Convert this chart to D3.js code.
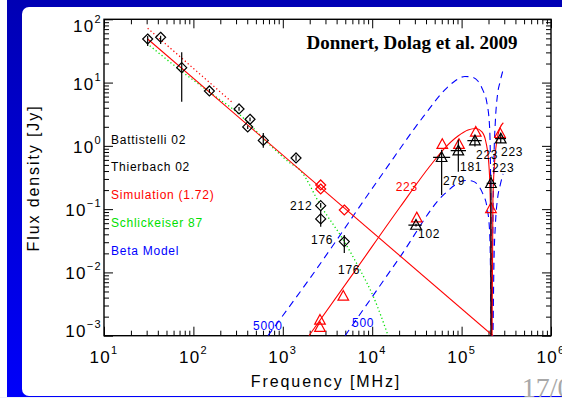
<!DOCTYPE html>
<html>
<head>
<meta charset="utf-8">
<script src="https://cdn.jsdelivr.net/npm/d3@7"></script>
<style>
  body { margin: 0; background: #fff; }
  text { font-family: "Liberation Sans", Arial, sans-serif; }
</style>
</head>
<body>
<script>
// axis ticks
var xMajor = [1e1, 1e2, 1e3, 1e4, 1e5, 1e6];
var xExp = ["1", "2", "3", "4", "5", "6"];
var yMajor = [1e-3, 1e-2, 1e-1, 1e0, 1e1, 1e2];
var yExp = ["\u22123", "\u22122", "\u22121", "0", "1", "2"];

// legend entries (text only, as in the figure)
var legendText = ["Battistelli 02", "Thierbach 02", "Simulation (1.72)", "Schlickeiser 87", "Beta Model"];
var legendColor = ["#000", "#000", "#ff0000", "#00e000", "#0000ff"];

// observed radio points: [MHz, Jy, lo, hi]
var obsDiamonds = [
  [30.8, 48.8, 37.8, 54.5],
  [43.0, 52.0, 40.7, 55.0],
  [74, 17.2, 4.99, 30.1],
  [151, 7.37, 6.9, 7.9],
  [324, 3.83, 3.6, 4.1],
  [430, 2.63, 2.45, 2.8],
  [405, 1.99, 1.85, 2.1],
  [605, 1.22, 0.93, 1.60],
  [1406, 0.644, 0.58, 0.71],
  [2654, 0.1135, 0.105, 0.125],
  [2654, 0.070, 0.0528, 0.097],
  [4875, 0.0307, 0.0203, 0.039]
];
// simulated points
var simDiamonds = [[2654, 0.241], [2654, 0.208], [4875, 0.097]];
var simTriangles = [
  [2606, 0.00177], [2606, 0.00136], [4750, 0.00425], [31500, 0.0734],
  [60800, 1.06], [93500, 1.06], [144000, 1.66], [213000, 0.103], [269000, 1.58]
];
// SZ observations: [MHz, Jy, fLo, fHi, sLo, sHi]
var obsTriangles = [
  [30900, 0.056, 25400, 35800, 0.053, 0.059],
  [59800, 0.66, 48000, 74500, 0.168, 0.865],
  [91900, 0.84, 75500, 112000, 0.39, 1.25],
  [141000, 1.21, 116000, 168000, 0.98, 1.46],
  [274000, 1.30, 237000, 314000, 1.11, 1.52],
  [213000, 0.256, 191000, 243000, 1e-5, 0.35]
];

// curves: [MHz, Jy]
var simPowerLaw = [[30.8, 48.8], [224000, 0.001]];
var simDotted = [[30.8, 72], [280, 4.7]];
var schlickeiser = [
  [30.1, 41.8], [70.8, 15.8], [167, 6.37], [305, 3.43], [719, 1.03], [1205, 0.537],
  [1557, 0.416], [2654, 0.1135], [4875, 0.0307], [7310, 0.011], [10300, 0.00415], [15100, 0.00099]
];
var simSZLeft = [
  [1960, 0.001], [6430, 0.0106], [20500, 0.108], [44300, 0.48], [65200, 0.93], [91200, 1.43],
  [118000, 1.78], [145000, 1.88], [169000, 1.66], [187000, 1.15], [200000, 0.60],
  [208000, 0.20], [213000, 0.023], [216000, 0.0008]
];
var simSZRight = [[219000, 0.0008], [224000, 0.14], [233000, 0.50], [249000, 1.24], [269000, 1.92], [293000, 2.32]];
var beta5000Left = [
  [683, 0.001], [2014, 0.0081], [12760, 0.347], [37300, 2.89], [68100, 8.2], [84300, 10.6],
  [109000, 12.5], [131000, 12.2], [152000, 10.6], [173000, 7.6], [192000, 4.76],
  [205000, 2.14], [210000, 0.60], [213000, 0.0675], [216000, 0.0008]
];
var beta5000Right = [[222000, 0.0008], [224000, 0.047], [230000, 0.60], [239000, 2.56], [252000, 6.37], [269000, 10.2], [291000, 15.8]];
var beta500Left = [
  [4970, 0.001], [20500, 0.0176], [61900, 0.165], [68100, 0.187], [84300, 0.241],
  [109000, 0.284], [131000, 0.279], [152000, 0.241], [173000, 0.174], [192000, 0.108],
  [205000, 0.0487], [210000, 0.0136], [213000, 0.00153], [216000, 0.0008]
];
var beta500Right = [[222000, 0.0008], [224000, 0.00107], [230000, 0.0136], [239000, 0.0583], [252000, 0.145], [269000, 0.233], [291000, 0.36]];

// number annotations: [text, MHz, Jy, colour]
var notes = [
  ["212", 1205, 0.097, "#000"], ["176", 2065, 0.0282, "#000"], ["176", 4140, 0.00946, "#000"],
  ["102", 32500, 0.0351, "#000"], ["223", 18300, 0.194, "#ff0000"], ["279", 61900, 0.245, "#000"],
  ["181", 95900, 0.394, "#000"], ["223", 145000, 0.61, "#000"], ["223", 276000, 0.68, "#000"],
  ["223", 219000, 0.387, "#000"], ["5000", 464, 0.00124, "#0000ff"], ["500", 5940, 0.00138, "#0000ff"]
];

var W = 562, H = 398;
var pL = 104, pR = 551, pT = 19.3, pB = 335.7;

var svg = d3.select("body").append("svg").attr("width", W).attr("height", H);

// slide frame
var grad = svg.append("defs").append("linearGradient")
  .attr("id", "bg").attr("x1", 0).attr("y1", 0).attr("x2", 0).attr("y2", 1);
grad.append("stop").attr("offset", "0%").attr("stop-color", "#0000b4");
grad.append("stop").attr("offset", "100%").attr("stop-color", "#0000fa");
svg.append("rect").attr("x", 7).attr("y", 0).attr("width", W - 7).attr("height", 397).attr("fill", "url(#bg)");
svg.append("rect").attr("x", 22).attr("y", 7).attr("width", W).attr("height", 389).attr("rx", 7).attr("fill", "#fff");
svg.append("rect").attr("x", 0).attr("y", 397).attr("width", W).attr("height", 1).attr("fill", "#eef0fa");

svg.append("clipPath").attr("id", "plot").append("rect")
  .attr("x", pL).attr("y", pT).attr("width", pR - pL).attr("height", pB - pT);

var x = d3.scaleLog().domain([1e1, 1e6]).range([pL, pR]);
var y = d3.scaleLog().domain([1e-3, 1e2]).range([pB, pT]);
var xMinor = x.ticks().filter(function(d){ return xMajor.indexOf(d) < 0; });
var yMinor = y.ticks().filter(function(d){ return yMajor.indexOf(d) < 0; });

// ticks on all four sides, pointing inwards
function addAxis(axis, tx, ty){
  var g = svg.append("g").attr("transform", "translate(" + tx + "," + ty + ")").call(axis);
  g.select(".domain").remove();
  g.selectAll("line").attr("stroke", "#000").attr("stroke-width", 1);
}
addAxis(d3.axisBottom(x).tickValues(xMajor).tickSize(-9).tickFormat(""), 0, pB);
addAxis(d3.axisBottom(x).tickValues(xMinor).tickSize(-5).tickFormat(""), 0, pB);
addAxis(d3.axisTop(x).tickValues(xMajor).tickSize(-9).tickFormat(""), 0, pT);
addAxis(d3.axisTop(x).tickValues(xMinor).tickSize(-5).tickFormat(""), 0, pT);
addAxis(d3.axisLeft(y).tickValues(yMajor).tickSize(-9).tickFormat(""), pL, 0);
addAxis(d3.axisLeft(y).tickValues(yMinor).tickSize(-5).tickFormat(""), pL, 0);
addAxis(d3.axisRight(y).tickValues(yMajor).tickSize(-9).tickFormat(""), pR, 0);
addAxis(d3.axisRight(y).tickValues(yMinor).tickSize(-5).tickFormat(""), pR, 0);

svg.append("rect").attr("x", pL).attr("y", pT).attr("width", pR - pL).attr("height", pB - pT)
  .attr("fill", "none").attr("stroke", "#000").attr("stroke-width", 1.4);

// tick labels, 10 with superscript
xMajor.forEach(function(v, i){
  var t = svg.append("text").attr("x", x(v)).attr("y", 363).attr("text-anchor", "middle")
    .attr("font-size", 17).attr("letter-spacing", 1.3).attr("fill", "#000");
  t.append("tspan").text("10");
  t.append("tspan").attr("dy", -9).attr("font-size", 11).text(xExp[i]);
});
yMajor.forEach(function(v, i){
  var base = Math.min(Math.max(y(v) + 7, 32), 337);
  var t = svg.append("text").attr("x", 102).attr("y", base).attr("text-anchor", "end")
    .attr("font-size", 17).attr("letter-spacing", 1.3).attr("fill", "#000");
  t.append("tspan").text("10");
  t.append("tspan").attr("dy", -9).attr("font-size", 11).text(yExp[i]);
});

// axis titles
svg.append("text").attr("x", 326).attr("y", 387).attr("text-anchor", "middle")
  .attr("font-size", 16).attr("letter-spacing", 1.9).text("Frequency [MHz]");
svg.append("text").attr("transform", "translate(39,178) rotate(-90)").attr("text-anchor", "middle")
  .attr("font-size", 16).attr("letter-spacing", 1.9).text("Flux density [Jy]");

// title
svg.append("text").attr("x", 412).attr("y", 48.5).attr("text-anchor", "middle")
  .style("font-family", "'Liberation Serif', 'Times New Roman', serif")
  .attr("font-size", 19).attr("font-weight", "bold").text("Donnert, Dolag et al. 2009");

// legend
legendText.forEach(function(s, i){
  svg.append("text").attr("x", 111).attr("y", 143.5 + i * 27.8)
    .attr("font-size", 12).attr("letter-spacing", 0.75).attr("fill", legendColor[i]).text(s);
});

var plot = svg.append("g").attr("clip-path", "url(#plot)");
var line = d3.line().x(function(d){ return x(d[0]); }).y(function(d){ return y(d[1]); }).curve(d3.curveMonotoneX);

function drawCurve(data, color, dash, width){
  plot.append("path").datum(data).attr("d", line).attr("fill", "none")
    .attr("stroke", color).attr("stroke-width", width || 1.1)
    .attr("stroke-dasharray", dash || null);
}
drawCurve(beta5000Left, "#0000ff", "7,5");
drawCurve(beta5000Right, "#0000ff", "7,5");
drawCurve(beta500Left, "#0000ff", "7,5");
drawCurve(beta500Right, "#0000ff", "7,5");
drawCurve(schlickeiser, "#00e000", "1.2,2.6", 1.3);
drawCurve(simDotted, "#ff0000", "1.2,2.6", 1.3);
drawCurve(simPowerLaw, "#ff0000");
drawCurve(simSZLeft, "#ff0000");
drawCurve(simSZRight, "#ff0000");

// markers
var diamond = "M0,-5L5,0L0,5L-5,0Z";
var triangle = "M0,-5.5L5.3,4.2L-5.3,4.2Z";

obsDiamonds.forEach(function(d){
  plot.append("line").attr("x1", x(d[0])).attr("x2", x(d[0])).attr("y1", y(d[2])).attr("y2", y(d[3]))
    .attr("stroke", "#000").attr("stroke-width", 1.2);
});
plot.selectAll("path.od").data(obsDiamonds).enter().append("path").attr("class", "od")
  .attr("d", diamond).attr("transform", function(d){ return "translate(" + x(d[0]) + "," + y(d[1]) + ")"; })
  .attr("fill", "none").attr("stroke", "#000").attr("stroke-width", 1.2);

plot.selectAll("path.sd").data(simDiamonds).enter().append("path").attr("class", "sd")
  .attr("d", diamond).attr("transform", function(d){ return "translate(" + x(d[0]) + "," + y(d[1]) + ")"; })
  .attr("fill", "none").attr("stroke", "#ff0000").attr("stroke-width", 1.2);

plot.selectAll("path.st").data(simTriangles).enter().append("path").attr("class", "st")
  .attr("d", triangle).attr("transform", function(d){ return "translate(" + x(d[0]) + "," + y(d[1]) + ")"; })
  .attr("fill", "none").attr("stroke", "#ff0000").attr("stroke-width", 1.2);

obsTriangles.forEach(function(d){
  plot.append("line").attr("x1", x(d[0])).attr("x2", x(d[0])).attr("y1", y(d[4])).attr("y2", y(d[5]))
    .attr("stroke", "#000").attr("stroke-width", 1.2);
  plot.append("line").attr("x1", x(d[2])).attr("x2", x(d[3])).attr("y1", y(d[1])).attr("y2", y(d[1]))
    .attr("stroke", "#000").attr("stroke-width", 1.2);
});
plot.selectAll("path.ot").data(obsTriangles).enter().append("path").attr("class", "ot")
  .attr("d", triangle).attr("transform", function(d){ return "translate(" + x(d[0]) + "," + y(d[1]) + ")"; })
  .attr("fill", "none").attr("stroke", "#000").attr("stroke-width", 1.2);

// point annotations
notes.forEach(function(n){
  svg.append("text").attr("x", x(n[1])).attr("y", y(n[2])).attr("font-size", 12)
    .attr("letter-spacing", 0.75).attr("fill", n[3]).text(n[0]);
});

// slide page number
svg.append("text").attr("x", 521.7).attr("y", 396.5)
  .style("font-family", "'Liberation Serif', 'Times New Roman', serif")
  .attr("font-size", 28).attr("fill", "#a8a8a8").text("17/0");
</script>
</body>
</html>
